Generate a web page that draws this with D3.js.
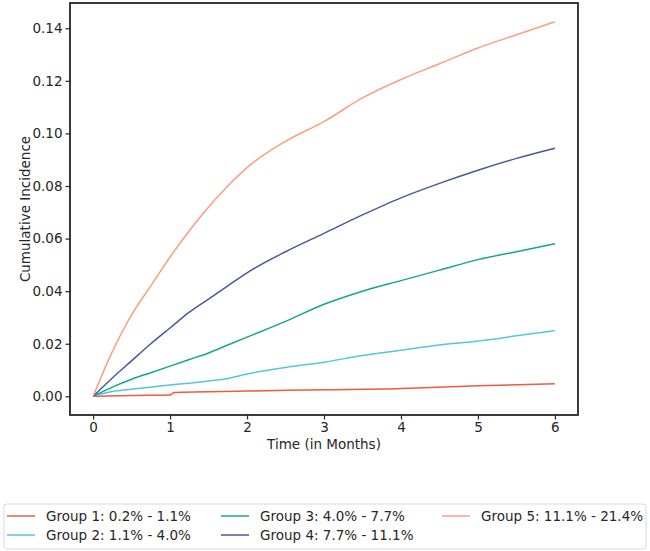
<!DOCTYPE html>
<html>
<head>
<meta charset="utf-8">
<script src="https://cdn.jsdelivr.net/npm/d3@7"></script>
<style>
  body { margin: 0; background: #fff; }
  text { font-family: "DejaVu Sans", sans-serif; fill: #262626; }
</style>
</head>
<body>
<div id="chart"></div>
<script>
// months shared by groups 2-5
const months = [0, 0.25, 0.5, 0.75, 1, 1.25, 1.5, 1.75, 2, 2.5, 3, 3.5, 4, 4.5, 5, 5.5, 6];
// group 1 has its own sample times (step just after month 1)
const g1Months = [0, 0.5, 1.0, 1.05, 2, 3, 4, 4.3, 5, 6];
const g1Values = [0, 0.0003, 0.0005, 0.0015, 0.002, 0.0025, 0.003, 0.0033, 0.004, 0.0048];
const g2Values = [0, 0.0018, 0.0027, 0.0035, 0.0043, 0.005, 0.0058, 0.0068, 0.0085, 0.011, 0.013, 0.0155, 0.0175, 0.0195, 0.021, 0.023, 0.025];
const g3Values = [0, 0.0035, 0.0065, 0.009, 0.0115, 0.014, 0.0165, 0.0195, 0.0225, 0.0285, 0.035, 0.040, 0.044, 0.048, 0.052, 0.055, 0.058];
const g4Values = [0, 0.007, 0.0135, 0.020, 0.026, 0.032, 0.037, 0.042, 0.047, 0.055, 0.062, 0.069, 0.0755, 0.081, 0.086, 0.0905, 0.0944];
const g5Values = [0, 0.017, 0.031, 0.042, 0.053, 0.063, 0.072, 0.080, 0.087, 0.097, 0.1045, 0.1135, 0.1205, 0.1265, 0.1325, 0.1375, 0.1425];

const groupLabels = ["Group 1: 0.2% - 1.1%", "Group 2: 1.1% - 4.0%", "Group 3: 4.0% - 7.7%",
                     "Group 4: 7.7% - 11.1%", "Group 5: 11.1% - 21.4%"];
const groupColors = ["#f05a40", "#56c5dd", "#15a883", "#48599a", "#fd9e7f"];

const xTicks = [0, 1, 2, 3, 4, 5, 6];
const yTicks = [0, 0.02, 0.04, 0.06, 0.08, 0.10, 0.12, 0.14];

const series = [
  {t: g1Months, v: g1Values},
  {t: months, v: g2Values},
  {t: months, v: g3Values},
  {t: months, v: g4Values},
  {t: months, v: g5Values}
].map((s, i) => ({
  label: groupLabels[i],
  color: groupColors[i],
  points: s.t.map((t, j) => [t, s.v[j]])
}));

const width = 650, height = 551;
const margin = {left: 70, right: 72, top: 3, bottom: 136};

const svg = d3.select("#chart").append("svg")
    .attr("width", width)
    .attr("height", height);

const x = d3.scaleLinear()
    .domain([-0.3, 6.3])
    .range([margin.left, width - margin.right]);

const y = d3.scaleLinear()
    .domain([-0.0071, 0.1496])
    .range([height - margin.bottom, margin.top]);

// axes
const xAxis = d3.axisBottom(x).tickValues(xTicks).tickFormat(d3.format("d")).tickSize(4.5).tickPadding(2.5);
const yAxis = d3.axisLeft(y).tickValues(yTicks).tickFormat(d3.format(".2f")).tickSize(4.5).tickPadding(3);

svg.append("g")
    .attr("transform", `translate(0,${height - margin.bottom})`)
    .call(xAxis)
    .call(g => g.select(".domain").remove())
    .call(g => g.selectAll(".tick line").attr("stroke", "#262626").attr("stroke-width", 1.2))
    .call(g => g.selectAll(".tick text").attr("font-size", "13.5px").attr("font-family", "DejaVu Sans").attr("fill", "#262626"));

svg.append("g")
    .attr("transform", `translate(${margin.left},0)`)
    .call(yAxis)
    .call(g => g.select(".domain").remove())
    .call(g => g.selectAll(".tick line").attr("stroke", "#262626").attr("stroke-width", 1.2))
    .call(g => g.selectAll(".tick text").attr("font-size", "13.5px").attr("font-family", "DejaVu Sans").attr("fill", "#262626"));

// lines
const line = d3.line()
    .curve(d3.curveMonotoneX)
    .x(d => x(d[0]))
    .y(d => y(d[1]));

svg.append("g")
  .selectAll("path")
  .data(series)
  .join("path")
    .attr("fill", "none")
    .attr("stroke", d => d.color)
    .attr("stroke-width", 1.5)
    .attr("d", d => line(d.points));

// frame
svg.append("rect")
    .attr("x", margin.left)
    .attr("y", margin.top)
    .attr("width", width - margin.left - margin.right)
    .attr("height", height - margin.top - margin.bottom)
    .attr("fill", "none")
    .attr("stroke", "#262626")
    .attr("stroke-width", 1.8);

// axis labels
svg.append("text")
    .attr("x", (margin.left + width - margin.right) / 2)
    .attr("y", 449)
    .attr("text-anchor", "middle")
    .attr("font-size", "13.5px")
    .text("Time (in Months)");

svg.append("text")
    .attr("transform", `translate(30,${(margin.top + height - margin.bottom) / 2}) rotate(-90)`)
    .attr("text-anchor", "middle")
    .attr("font-size", "13.5px")
    .text("Cumulative Incidence");

// legend
const legend = svg.append("g");
legend.append("rect")
    .attr("x", 4).attr("y", 504)
    .attr("width", 642).attr("height", 45)
    .attr("rx", 3)
    .attr("fill", "#fff")
    .attr("stroke", "#d9d9d9")
    .attr("stroke-width", 1);

const colX = [7, 221, 442];
const rowY = [516, 535];
const item = legend.selectAll("g.item")
  .data(series)
  .join("g")
    .attr("class", "item")
    .attr("transform", (d, i) => `translate(${colX[Math.floor(i / 2)]},${rowY[i % 2]})`);

item.append("line")
    .attr("x1", 0).attr("x2", 28)
    .attr("stroke", d => d.color)
    .attr("stroke-width", 1.5);

item.append("text")
    .attr("x", 39)
    .attr("dy", "0.35em")
    .attr("font-size", "13.5px")
    .text(d => d.label);
</script>
</body>
</html>
